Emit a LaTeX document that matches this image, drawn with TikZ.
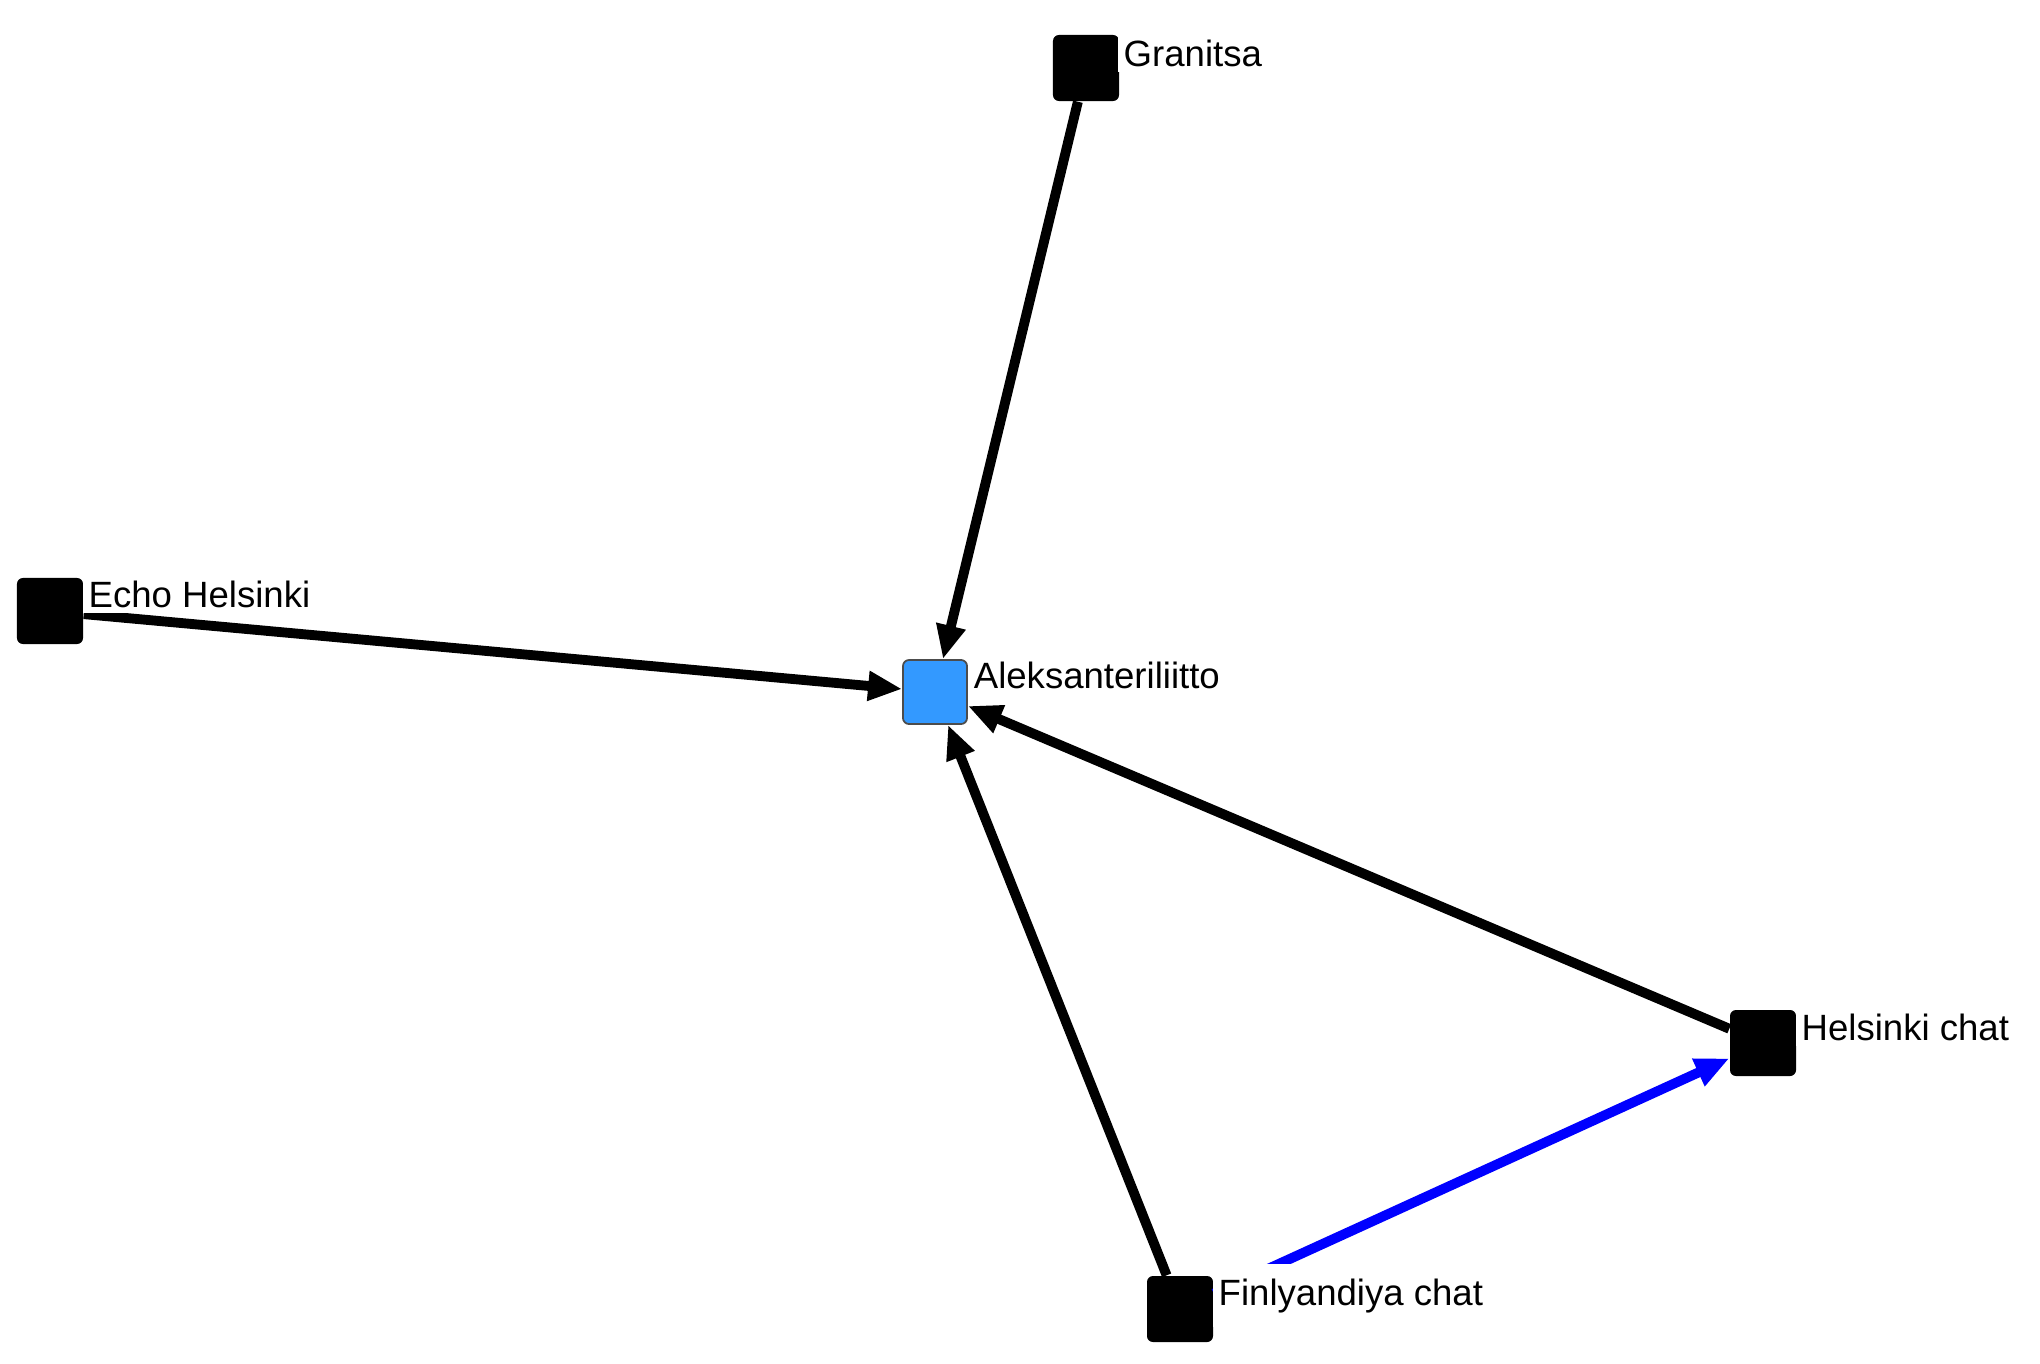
\documentclass[tikz,border=0pt]{standalone}
\usepackage{fontspec}
\setmainfont{Liberation Sans}
\usepackage{tikz}
\usetikzlibrary{arrows.meta, calc}
\usepackage{xcolor}
\definecolor{hubblue}{RGB}{51,153,255}
\definecolor{linkblue}{RGB}{0,0,255}

\begin{document}
\begin{tikzpicture}[x=0.01cm, y=-0.01cm,
  every node/.style={font=\fontsize{10.4}{12}\selectfont},
  actor/.style={rectangle, rounded corners=0.06cm, minimum size=0.66cm, inner sep=0pt, fill=black},
  hub/.style={actor, minimum size=0.64cm, fill=hubblue, draw=black!70, line width=0.5pt},
  tag/.style={anchor=base west, fill=white, inner sep=1.5pt},
  link/.style={-{Triangle[length=0.34cm, width=0.28cm]}, line width=2.8pt}]
  \useasboundingbox (0,0) rectangle (2040,1363);

  \node[hub] (aleks) at (935,692) {};
  \node[actor] (granitsa) at (1086,68) {};
  \node[actor] (echo) at (50,611) {};
  \node[actor] (hchat) at (1763,1043) {};
  \node[actor] (fchat) at (1180,1309) {};

  \draw[link, linkblue] (fchat) -- (hchat);
  \draw[link] (granitsa) -- (aleks);
  \draw[link] (echo) -- (aleks);
  \draw[link] (hchat) -- (aleks);
  \draw[link] (fchat) -- (aleks);

  \node[tag] (aleks-l) at ($(aleks.east)+(0,-4)$) {Aleksanteriliitto};
  \node[tag] (granitsa-l) at ($(granitsa.east)+(-2,-2)$) {Granitsa};
  \node[tag] (echo-l) at ($(echo.east)+(-1,-4)$) {Echo Helsinki};
  \node[tag] (hchat-l) at ($(hchat.east)+(-1,-3)$) {Helsinki chat};
  \node[tag, inner ysep=4pt] (fchat-l) at ($(fchat.east)+(-1,-4)$) {Finlyandiya chat};
\end{tikzpicture}
\end{document}
